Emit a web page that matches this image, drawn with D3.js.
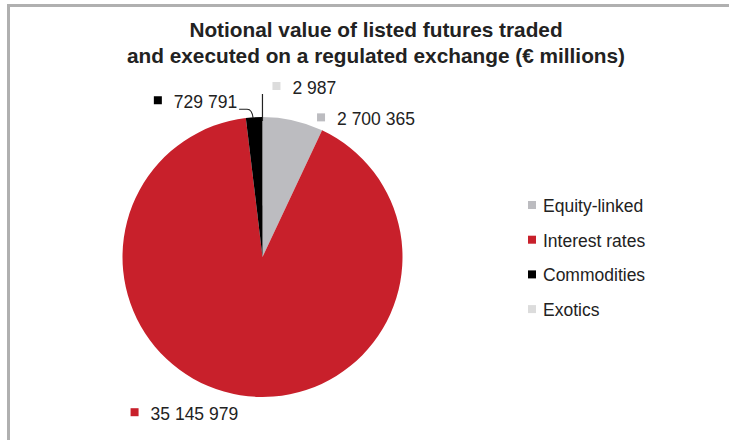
<!DOCTYPE html>
<html>
<head>
<meta charset="utf-8">
<script src="https://cdn.jsdelivr.net/npm/d3@7"></script>
<style>
  html, body { margin: 0; padding: 0; background: #fff; overflow: hidden; }
  svg { display: block; font-family: "Liberation Sans", Arial, sans-serif; }
</style>
</head>
<body>
<svg id="chart" width="729" height="440"></svg>
<script>
// Listed futures, notional value in € millions
const categories = ["Equity-linked", "Interest rates", "Commodities", "Exotics"];
const values = [2700365, 35145979, 729791, 2987];
const colors = ["#bcbcc0", "#c8202b", "#000000", "#dcdcdc"];
const titleLines = [
  "Notional value of listed futures traded",
  "and executed on a regulated exchange (€ millions)"
];

const W = 729, H = 440;
const svg = d3.select("#chart");

// Space-separated thousands, e.g. 35 145 979
const fmt = d3.formatLocale({ decimal: ",", thousands: " ", grouping: [3], currency: ["", "€"] }).format(",d");

// Frame: top and left edges
const frame = svg.append("g").attr("stroke", "#b0b0b0").attr("stroke-width", 3);
frame.append("line").attr("x1", 7).attr("y1", 5.5).attr("x2", W).attr("y2", 5.5);
frame.append("line").attr("x1", 8.5).attr("y1", 4).attr("x2", 8.5).attr("y2", H);

// Title
svg.append("g").selectAll("text")
  .data(titleLines)
  .join("text")
  .attr("x", 376)
  .attr("y", (d, i) => 37 + i * 26)
  .attr("text-anchor", "middle")
  .attr("font-weight", "bold")
  .attr("font-size", 20.8)
  .attr("fill", "#222")
  .text(d => d);

// Pie
const cx = 262.5, cy = 257, R = 140;
const data = categories.map((c, i) => ({ category: c, value: values[i], color: colors[i] }));
const pie = d3.pie().sort(null).value(d => d.value);
const arcs = pie(data);
const arc = d3.arc().innerRadius(0).outerRadius(R);

const g = svg.append("g").attr("transform", `translate(${cx},${cy})`);
g.selectAll("path")
  .data(arcs)
  .join("path")
  .attr("d", arc)
  .attr("fill", d => d.data.color);

// Point on the rim at a slice's middle angle
function rimPoint(a, r = R) {
  const m = (a.startAngle + a.endAngle) / 2;
  return [Math.sin(m) * r, -Math.cos(m) * r];
}

// Data labels: offsets of the text (relative to the rim point) and text anchor
const labelLayout = {
  "Equity-linked":  { dx: 44,  dy: 5,  anchor: "start" },
  "Interest rates": { dx: -2,  dy: 25, anchor: "end" },
  "Commodities":    { dx: -17, dy: -9, anchor: "end" },
  "Exotics":        { dx: 30,  dy: -23, anchor: "start" }
};
const keySize = 8, keyGap = 12, labelSize = 17.5;

const labels = g.append("g");
arcs.forEach(a => {
  const [px, py] = rimPoint(a);
  const L = labelLayout[a.data.category];
  const t = labels.append("text")
    .attr("x", px + L.dx)
    .attr("y", py + L.dy)
    .attr("text-anchor", L.anchor)
    .attr("font-size", labelSize)
    .attr("fill", "#222")
    .text(fmt(a.data.value));
  const bb = t.node().getBBox();
  labels.append("rect")
    .attr("x", bb.x - keyGap - keySize)
    .attr("y", py + L.dy - 12)
    .attr("width", keySize)
    .attr("height", keySize)
    .attr("fill", a.data.color);

  // Leader lines for the thin slices
  if (a.data.category === "Commodities") {
    const x1 = px + L.dx + 2, y1 = py + L.dy + 1;
    g.append("path")
      .attr("d", `M${x1},${y1} L${px - 7},${y1} Q${px - 2},${y1} ${px - 1},${py + 1}`)
      .attr("fill", "none").attr("stroke", "#222").attr("stroke-width", 1.2);
  }
  if (a.data.category === "Exotics") {
    g.append("line")
      .attr("x1", px).attr("y1", py + 4)
      .attr("x2", px).attr("y2", py + L.dy)
      .attr("stroke", "#222").attr("stroke-width", 1.2);
  }
});

// Legend
const legend = svg.append("g").attr("transform", "translate(528,212)");
const rows = legend.selectAll("g")
  .data(data)
  .join("g")
  .attr("transform", (d, i) => `translate(0,${i * 34.7})`);
rows.append("rect")
  .attr("x", 0).attr("y", -11)
  .attr("width", keySize).attr("height", keySize)
  .attr("fill", d => d.color);
rows.append("text")
  .attr("x", 15).attr("y", 0)
  .attr("font-size", labelSize)
  .attr("fill", "#222")
  .text(d => d.category);
</script>
</body>
</html>
